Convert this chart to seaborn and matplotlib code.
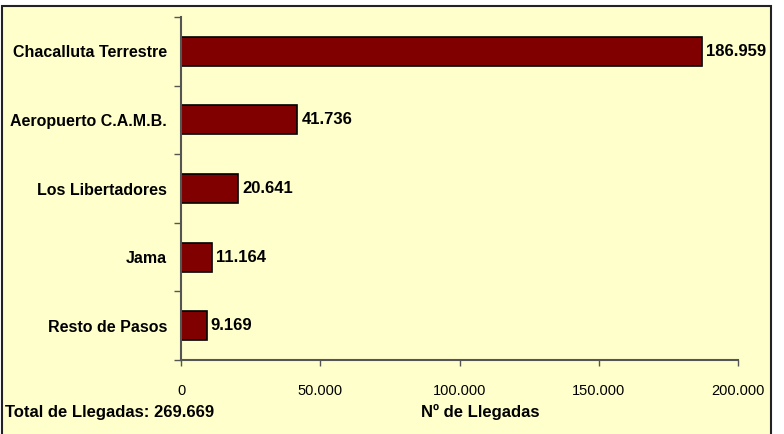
import matplotlib
matplotlib.use("Agg")
import matplotlib.pyplot as plt
import matplotlib.ticker as mticker
from matplotlib.patches import Rectangle
import numpy as np
import seaborn as sns

# datos
pasos = ["Chacalluta Terrestre", "Aeropuerto C.A.M.B.", "Los Libertadores", "Jama", "Resto de Pasos"]
llegadas = [186959, 41736, 20641, 11164, 9169]
total_llegadas = 269669
xticks = [0, 50000, 100000, 150000, 200000]

fondo = "#FFFFCC"
barra = "#800000"

sns.set_theme(style="white")
plt.rcParams['font.family'] = ['Liberation Sans Narrow', 'Liberation Sans', 'DejaVu Sans']


def miles(v):
    return f"{v:,.0f}".replace(",", ".")


fig = plt.figure(figsize=(7.84, 4.34), dpi=100, facecolor="white")
fig.patches.append(Rectangle((2 / 784, -0.01), 769 / 784, 1 - 6 / 434 + 0.01,
                             transform=fig.transFigure, facecolor=fondo,
                             edgecolor="#222222", linewidth=1.5, zorder=-10))

ax = fig.add_axes([181 / 784, 1 - 360 / 434, (738 - 181) / 784, (360 - 17) / 434])
ax.patch.set_alpha(0)

sns.barplot(x=llegadas, y=pasos, orient="h", color=barra, width=0.42,
            edgecolor="black", linewidth=1.2, saturation=1, ax=ax)

for i, v in enumerate(llegadas):
    ax.text(v + 1500, i, miles(v), va="center", ha="left",
            fontsize=12, fontweight="bold", color="black")

ax.set_xlim(0, 200000)
ax.set_ylim(4.5, -0.5)
ax.set_xticks(xticks)
ax.xaxis.set_major_formatter(mticker.FuncFormatter(lambda v, p: miles(v)))
ax.tick_params(axis="x", labelsize=10.5, length=4, width=1, color="#555555",
               direction="out", bottom=True, pad=13, labelcolor="black")
ax.tick_params(axis="y", which="major", length=0, pad=10, labelsize=11.5,
               labelcolor="black")
for lab in ax.get_yticklabels():
    lab.set_fontweight("bold")
ax.set_yticks(np.arange(-0.5, 5, 1), minor=True)
ax.tick_params(axis="y", which="minor", length=5, width=1, color="#555555",
               direction="out", left=True)

for s in ["top", "right"]:
    ax.spines[s].set_visible(False)
for s in ["left", "bottom"]:
    ax.spines[s].set_color("#555555")
    ax.spines[s].set_linewidth(1.5)

ax.set_xlabel("")
ax.set_ylabel("")
fig.text(480 / 784, 1 - 412 / 434, "Nº de Llegadas", ha="center", va="center",
         fontsize=12, fontweight="bold", color="black")
fig.text(5 / 784, 1 - 412 / 434, "Total de Llegadas: " + miles(total_llegadas),
         ha="left", va="center", fontsize=12, fontweight="bold", color="black")

fig.savefig("out.png", dpi=100, facecolor="white")
